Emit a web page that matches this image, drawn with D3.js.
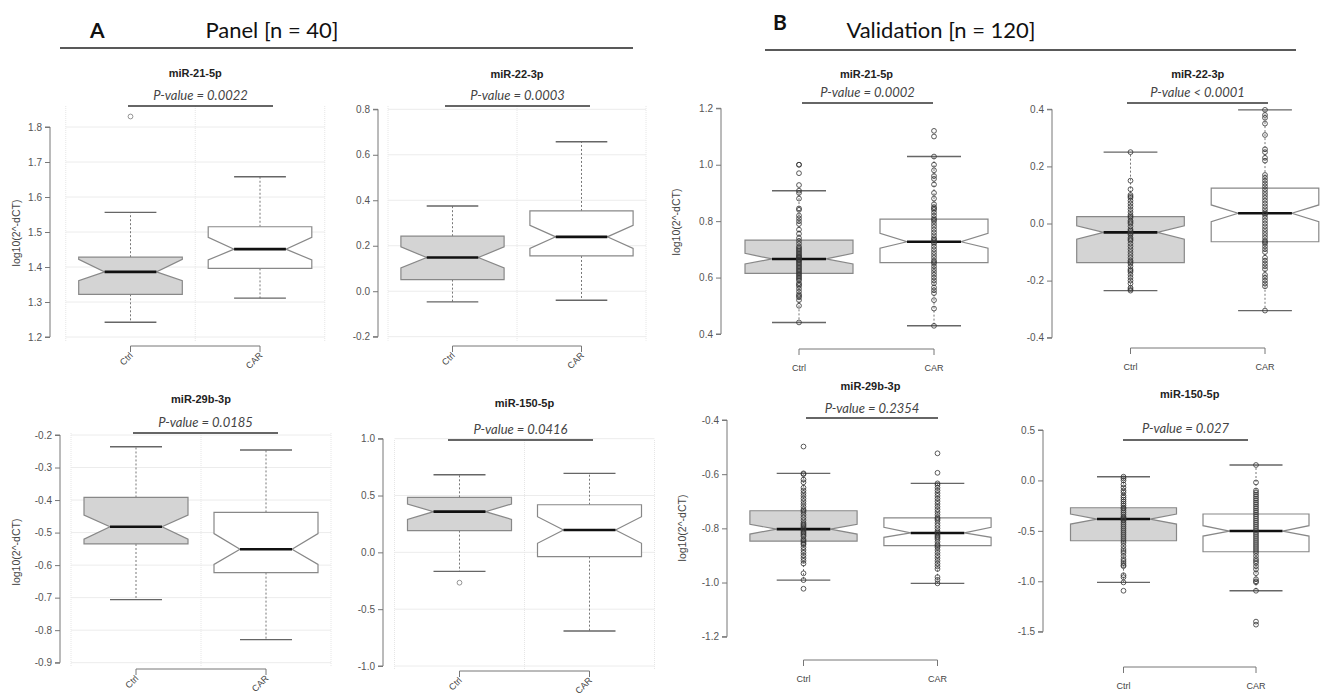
<!DOCTYPE html>
<html>
<head>
<meta charset="utf-8">
<script src="https://cdn.jsdelivr.net/npm/d3@7"></script>
<style>
  body { margin: 0; background: #fff; }
  svg { display: block; }
</style>
</head>
<body>
<div id="root"></div>
<script>
const width = 1321
const height = 700

const groups = ['Ctrl', 'CAR']
const titles = ['miR-21-5p', 'miR-22-3p', 'miR-29b-3p', 'miR-150-5p', 'miR-21-5p', 'miR-22-3p', 'miR-29b-3p', 'miR-150-5p']
const pLabels = ['P-value = 0.0022', 'P-value = 0.0003', 'P-value = 0.0185', 'P-value = 0.0416',
  'P-value = 0.0002', 'P-value < 0.0001', 'P-value = 0.2354', 'P-value = 0.027']
const yTicks = [
  [1.2, 1.3, 1.4, 1.5, 1.6, 1.7, 1.8],
  [-0.2, 0.0, 0.2, 0.4, 0.6, 0.8],
  [-0.9, -0.8, -0.7, -0.6, -0.5, -0.4, -0.3, -0.2],
  [-1.0, -0.5, 0.0, 0.5, 1.0],
  [0.4, 0.6, 0.8, 1.0, 1.2],
  [-0.4, -0.2, 0.0, 0.2, 0.4],
  [-1.2, -1.0, -0.8, -0.6, -0.4],
  [-1.5, -1.0, -0.5, 0.0, 0.5]
]

// [Ctrl, CAR] per panel
const whiskLo = [[1.242, 1.311], [-0.047, -0.040], [-0.706, -0.829], [-0.167, -0.692], [0.441, 0.429], [-0.235, -0.305], [-0.991, -1.003], [-1.011, -1.094]]
const q1 = [[1.322, 1.396], [0.051, 0.155], [-0.535, -0.623], [0.191, -0.038], [0.615, 0.653], [-0.137, -0.064], [-0.847, -0.864], [-0.598, -0.707]]
const med = [[1.386, 1.451], [0.148, 0.239], [-0.482, -0.551], [0.358, 0.197], [0.666, 0.727], [-0.031, 0.036], [-0.803, -0.817], [-0.383, -0.502]]
const q3 = [[1.428, 1.515], [0.242, 0.353], [-0.392, -0.438], [0.484, 0.419], [0.733, 0.807], [0.024, 0.124], [-0.735, -0.761], [-0.271, -0.333]]
const whiskHi = [[1.556, 1.658], [0.375, 0.657], [-0.236, -0.246], [0.683, 0.695], [0.908, 1.029], [0.250, 0.398], [-0.597, -0.634], [0.037, 0.153]]
const notchLo = [[1.361, 1.420], [0.102, 0.188], [-0.520, -0.598], [0.290, 0.080], [0.648, 0.704], [-0.055, 0.006], [-0.821, -0.833], [-0.433, -0.552]]
const notchHi = [[1.422, 1.485], [0.195, 0.290], [-0.446, -0.503], [0.425, 0.314], [0.686, 0.757], [-0.008, 0.065], [-0.785, -0.796], [-0.333, -0.449]]

// outliers of the panel (discovery) boxplots
const outliers = [[[1.83], []], [[], []], [[], []], [[-0.267], []]]

// individual samples of the validation set
const pointsB = [
  [
    [0.441, 0.50, 0.52, 0.53, 0.535, 0.54, 0.55, 0.56, 0.57, 0.575, 0.58, 0.59, 0.595, 0.60, 0.605, 0.61, 0.615, 0.62, 0.625, 0.63, 0.635, 0.64, 0.645, 0.65, 0.655, 0.66, 0.663, 0.666, 0.67, 0.673, 0.676, 0.68, 0.685, 0.69, 0.695, 0.70, 0.705, 0.71, 0.72, 0.73, 0.74, 0.755, 0.77, 0.79, 0.80, 0.81, 0.82, 0.84, 0.845, 0.88, 0.90, 0.908, 0.928, 0.97, 1.0, 1.0],
    [0.429, 0.49, 0.52, 0.545, 0.555, 0.565, 0.58, 0.59, 0.60, 0.61, 0.62, 0.63, 0.64, 0.65, 0.655, 0.66, 0.67, 0.68, 0.69, 0.70, 0.71, 0.72, 0.725, 0.73, 0.735, 0.74, 0.75, 0.76, 0.77, 0.78, 0.79, 0.80, 0.805, 0.81, 0.82, 0.83, 0.84, 0.845, 0.85, 0.86, 0.88, 0.90, 0.93, 0.95, 0.96, 0.98, 1.0, 1.029, 1.10, 1.12]
  ],
  [
    [-0.235, -0.23, -0.225, -0.21, -0.20, -0.19, -0.18, -0.17, -0.165, -0.16, -0.15, -0.14, -0.135, -0.13, -0.12, -0.11, -0.10, -0.09, -0.08, -0.07, -0.06, -0.055, -0.05, -0.04, -0.035, -0.03, -0.025, -0.02, -0.01, 0.0, 0.005, 0.01, 0.02, 0.025, 0.03, 0.04, 0.05, 0.06, 0.07, 0.08, 0.09, 0.095, 0.10, 0.12, 0.15, 0.25],
    [-0.305, -0.22, -0.21, -0.20, -0.19, -0.18, -0.16, -0.15, -0.14, -0.13, -0.12, -0.10, -0.09, -0.08, -0.07, -0.065, -0.06, -0.05, -0.04, -0.03, -0.02, -0.01, 0.0, 0.01, 0.02, 0.03, 0.035, 0.04, 0.05, 0.06, 0.07, 0.08, 0.09, 0.10, 0.11, 0.12, 0.13, 0.14, 0.15, 0.16, 0.17, 0.22, 0.23, 0.25, 0.26, 0.31, 0.35, 0.37, 0.38, 0.398]
  ],
  [
    [-1.023, -0.991, -0.966, -0.93, -0.92, -0.91, -0.90, -0.89, -0.88, -0.87, -0.86, -0.855, -0.85, -0.845, -0.84, -0.83, -0.825, -0.82, -0.815, -0.81, -0.805, -0.80, -0.795, -0.79, -0.785, -0.78, -0.77, -0.76, -0.75, -0.74, -0.735, -0.73, -0.72, -0.71, -0.70, -0.69, -0.68, -0.67, -0.66, -0.65, -0.63, -0.62, -0.60, -0.597, -0.498],
    [-1.003, -0.99, -0.98, -0.95, -0.94, -0.93, -0.92, -0.91, -0.90, -0.89, -0.88, -0.87, -0.865, -0.86, -0.85, -0.84, -0.835, -0.83, -0.825, -0.82, -0.815, -0.81, -0.80, -0.79, -0.78, -0.77, -0.765, -0.76, -0.75, -0.74, -0.73, -0.72, -0.71, -0.70, -0.69, -0.68, -0.67, -0.66, -0.65, -0.64, -0.634, -0.595, -0.523]
  ],
  [
    [-1.094, -1.011, -0.96, -0.94, -0.85, -0.84, -0.82, -0.80, -0.78, -0.75, -0.72, -0.70, -0.68, -0.65, -0.62, -0.60, -0.58, -0.56, -0.54, -0.52, -0.50, -0.48, -0.46, -0.44, -0.42, -0.40, -0.39, -0.38, -0.37, -0.36, -0.34, -0.32, -0.30, -0.28, -0.27, -0.25, -0.23, -0.21, -0.19, -0.17, -0.15, -0.12, -0.10, -0.07, -0.04, 0.0, 0.02, 0.037],
    [-1.43, -1.40, -1.094, -1.01, -1.0, -0.98, -0.92, -0.88, -0.85, -0.82, -0.80, -0.78, -0.75, -0.72, -0.70, -0.68, -0.66, -0.64, -0.62, -0.60, -0.58, -0.56, -0.54, -0.52, -0.50, -0.48, -0.46, -0.44, -0.42, -0.40, -0.38, -0.36, -0.34, -0.32, -0.30, -0.28, -0.26, -0.24, -0.22, -0.20, -0.18, -0.16, -0.14, -0.12, -0.10, -0.02, 0.153]
  ]
]

// pixel layout of each small chart
const layout = [
  { ax: 50, yTop: 127, yBot: 337, c1: 130.5, c2: 260, tY: 77, pY: 100, u1: 128, u2: 273, uY: 106, brY: 346, rot: true, ylab: [16, 233] },
  { ax: 378, yTop: 109.3, yBot: 336.7, c1: 452.5, c2: 581.5, tY: 78, pY: 100, u1: 445, u2: 590, uY: 106, brY: 346, rot: true },
  { ax: 60, yTop: 435, yBot: 662.7, c1: 136, c2: 266, tY: 403, pY: 427, u1: 133, u2: 278, uY: 433, brY: 669, rot: true, ylab: [16, 552] },
  { ax: 383, yTop: 438.7, yBot: 666, c1: 459.5, c2: 589.5, tY: 407, pY: 434, u1: 448, u2: 593, uY: 440, brY: 671, rot: true },
  { ax: 721, yTop: 108.3, yBot: 334, c1: 799, c2: 934, tY: 78, pY: 97, u1: 802, u2: 933, uY: 103, brY: 349, rot: false, ylab: [676, 222] },
  { ax: 1052, yTop: 109.3, yBot: 337.7, c1: 1130.5, c2: 1265, tY: 78, pY: 97, u1: 1127, u2: 1268, uY: 103, brY: 348, rot: false },
  { ax: 727, yTop: 420, yBot: 636.7, c1: 803.5, c2: 937.5, tY: 390, pY: 413, u1: 806, u2: 938, uY: 418, brY: 660, rot: false, ylab: [682, 528] },
  { ax: 1043, yTop: 430, yBot: 631.7, c1: 1123.5, c2: 1256, tY: 398, pY: 433, u1: 1123, u2: 1248, uY: 440, brY: 667, rot: false }
]

const svg = d3.select('#root').append('svg')
  .attr('width', width)
  .attr('height', height)
  .style('font-family', 'Liberation Sans, Arial, sans-serif')

// section headers
const headers = [
  { letter: 'A', lx: 90, ly: 38, text: 'Panel [n = 40]', tx: 272, ty: 38, x1: 60, x2: 633, y: 48 },
  { letter: 'B', lx: 773, ly: 30, text: 'Validation [n = 120]', tx: 941, ty: 38, x1: 765, x2: 1296, y: 50 }
]
headers.forEach(h => {
  svg.append('text').attr('x', h.lx).attr('y', h.ly)
    .style('font-family', 'Lato, Open Sans, sans-serif').style('font-weight', 'bold')
    .style('font-size', '21px').attr('fill', '#111').text(h.letter)
  svg.append('text').attr('x', h.tx).attr('y', h.ty).attr('text-anchor', 'middle')
    .style('font-family', 'Lato, Open Sans, sans-serif')
    .style('font-size', '22px').attr('fill', '#111').text(h.text)
  svg.append('line').attr('x1', h.x1).attr('x2', h.x2).attr('y1', h.y).attr('y2', h.y)
    .attr('stroke', '#222').attr('stroke-width', 1.4)
})

layout.forEach((L, p) => {
  const ticks = yTicks[p]
  const y = d3.scaleLinear().domain([d3.min(ticks), d3.max(ticks)]).range([L.yBot, L.yTop])
  const x = d3.scaleLinear().domain([1, 2]).range([L.c1, L.c2])
  const boxW = (x(1.4) - x(1)) // half width of a box
  const g = svg.append('g')
  const isB = p >= 4

  // faint grid in the discovery panels
  if (!isB) {
    const gTop = L.uY
    const gBot = L.yBot + 4
    g.selectAll('.hgrid').data(ticks).enter().append('line')
      .attr('x1', x(0.5)).attr('x2', x(2.5))
      .attr('y1', d => y(d)).attr('y2', d => y(d))
      .attr('stroke', '#ececec').attr('stroke-width', 1)
    g.selectAll('.vgrid').data([0.5, 1.5, 2.5]).enter().append('line')
      .attr('x1', d => x(d)).attr('x2', d => x(d))
      .attr('y1', gTop).attr('y2', gBot)
      .attr('stroke', '#e6e6e6').attr('stroke-width', 1).attr('stroke-dasharray', '1,1')
  }

  // y axis
  const axis = g.append('g')
    .attr('transform', 'translate(' + L.ax + ',0)')
    .call(d3.axisLeft(y).tickValues(ticks).tickSize(5).tickPadding(3).tickFormat(d => d.toFixed(1)))
  axis.select('.domain').attr('stroke', '#777').attr('d', 'M-5,' + y(d3.max(ticks)) + 'H0V' + y(d3.min(ticks)) + 'H-5')
  axis.selectAll('.tick line').attr('stroke', '#777')
  axis.selectAll('.tick text').attr('fill', '#555').style('font-size', '10px')
    .style('font-family', 'Liberation Sans, Arial, sans-serif')

  if (L.ylab) {
    g.append('text')
      .attr('transform', 'translate(' + L.ylab[0] + ',' + L.ylab[1] + ') rotate(-90)')
      .attr('text-anchor', 'middle').attr('dy', '0.35em')
      .style('font-size', '10.5px').attr('fill', '#444')
      .text('log10(2^-dCT)')
  }

  // title and p-value
  g.append('text').attr('x', (L.c1 + L.c2) / 2).attr('y', L.tY).attr('text-anchor', 'middle')
    .style('font-size', '11px').style('font-weight', 'bold').attr('fill', '#222').text(titles[p])
  g.append('text').attr('x', (L.u1 + L.u2) / 2).attr('y', L.pY).attr('text-anchor', 'middle')
    .style('font-family', 'Lato, Open Sans, sans-serif').style('font-style', 'italic')
    .style('font-size', '13px').attr('fill', '#444').text(pLabels[p])
  g.append('line').attr('x1', L.u1).attr('x2', L.u2).attr('y1', L.uY).attr('y2', L.uY)
    .attr('stroke', '#333').attr('stroke-width', 1.3)

  // group axis (bracket)
  g.append('path')
    .attr('d', 'M' + x(1) + ',' + (L.brY + 6) + 'V' + L.brY + 'H' + x(2) + 'V' + (L.brY + 6))
    .attr('fill', 'none').attr('stroke', '#777').attr('stroke-width', 1)
  groups.forEach((name, i) => {
    const t = g.append('text').style('font-size', '9px').attr('fill', '#444').text(name)
    if (L.rot) {
      t.attr('text-anchor', 'end')
        .attr('transform', 'translate(' + (x(i + 1) + 3) + ',' + (L.brY + 10) + ') rotate(-45)')
    } else {
      t.attr('text-anchor', 'middle').attr('x', x(i + 1)).attr('y', L.brY + 22)
    }
  })

  // boxes
  const boxes = groups.map((name, i) => ({
    cx: x(i + 1), lo: whiskLo[p][i], q1: q1[p][i], med: med[p][i], q3: q3[p][i],
    hi: whiskHi[p][i], nLo: notchLo[p][i], nHi: notchHi[p][i], fill: i === 0 ? '#d4d4d4' : '#fff'
  }))

  const bg = g.selectAll('.box').data(boxes).enter().append('g')

  bg.append('line').attr('x1', d => d.cx).attr('x2', d => d.cx)
    .attr('y1', d => y(d.q3)).attr('y2', d => y(d.hi))
    .attr('stroke', '#777').attr('stroke-dasharray', '2,2')
  bg.append('line').attr('x1', d => d.cx).attr('x2', d => d.cx)
    .attr('y1', d => y(d.q1)).attr('y2', d => y(d.lo))
    .attr('stroke', '#777').attr('stroke-dasharray', '2,2')
  bg.selectAll('.cap').data(d => [[d.cx, d.hi], [d.cx, d.lo]]).enter().append('line')
    .attr('x1', d => d[0] - boxW / 2).attr('x2', d => d[0] + boxW / 2)
    .attr('y1', d => y(d[1])).attr('y2', d => y(d[1]))
    .attr('stroke', '#666').attr('stroke-width', 1.4)

  bg.append('path')
    .attr('d', d => {
      const l = d.cx - boxW, r = d.cx + boxW
      const pts = [[l, y(d.q1)], [l, y(d.nLo)], [d.cx - boxW / 2, y(d.med)], [l, y(d.nHi)], [l, y(d.q3)],
        [r, y(d.q3)], [r, y(d.nHi)], [d.cx + boxW / 2, y(d.med)], [r, y(d.nLo)], [r, y(d.q1)]]
      return d3.line()(pts) + 'Z'
    })
    .attr('fill', d => d.fill).attr('stroke', '#888').attr('stroke-width', 1.2)

  // outliers / raw points
  if (!isB) {
    outliers[p].forEach((vals, i) => {
      g.selectAll('.out' + i).data(vals).enter().append('circle')
        .attr('cx', x(i + 1)).attr('cy', d => y(d)).attr('r', 2.4)
        .attr('fill', 'none').attr('stroke', '#888').attr('stroke-width', 0.9)
    })
  } else {
    pointsB[p - 4].forEach((vals, i) => {
      g.selectAll('.pt' + i).data(vals).enter().append('circle')
        .attr('cx', x(i + 1)).attr('cy', d => y(d)).attr('r', 2.4)
        .attr('fill', 'none').attr('stroke', '#333').attr('stroke-opacity', 0.8).attr('stroke-width', 1)
    })
  }

  bg.append('line')
    .attr('x1', d => d.cx - boxW / 2).attr('x2', d => d.cx + boxW / 2)
    .attr('y1', d => y(d.med)).attr('y2', d => y(d.med))
    .attr('stroke', '#111').attr('stroke-width', 2.6)
})
</script>
</body>
</html>
